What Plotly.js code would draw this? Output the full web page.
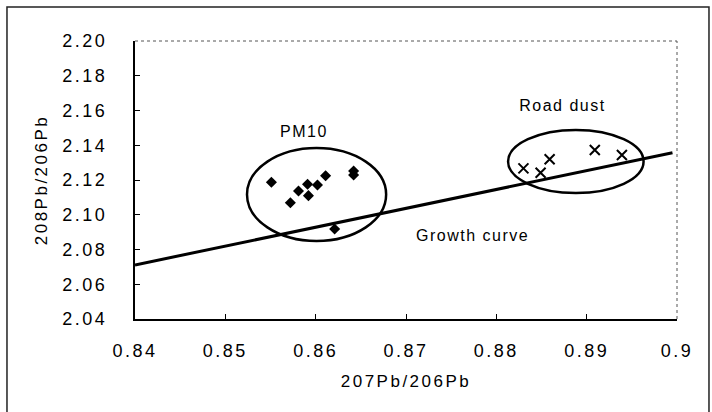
<!DOCTYPE html>
<html>
<head>
<meta charset="utf-8">
<script src="https://cdn.plot.ly/plotly-3.0.1.min.js"></script>
<style>
html,body{margin:0;padding:0;background:#fff;}
#chart{width:712px;height:412px;}
.js-plotly-plot .xtick text,.js-plotly-plot .ytick text{letter-spacing:2.5px;}
.js-plotly-plot .g-xtitle text,.js-plotly-plot .g-ytitle text{letter-spacing:2.5px;}
.js-plotly-plot .annotation-text{letter-spacing:1.5px;}
</style>
</head>
<body>
<div id="chart"></div>
<script>
// PM10 samples (207Pb/206Pb, 208Pb/206Pb)
const pm10X = [0.8551, 0.8572, 0.8581, 0.8591, 0.8592, 0.8602, 0.8611, 0.8642, 0.8642, 0.8621];
const pm10Y = [2.1187, 2.1069, 2.1137, 2.1175, 2.1110, 2.1171, 2.1225, 2.1252, 2.1229, 2.0918];
// Road dust samples
const dustX = [0.8830, 0.8849, 0.8859, 0.8909, 0.8939];
const dustY = [2.1267, 2.1242, 2.1319, 2.1373, 2.1344];
// Growth curve end points
const curveX = [0.84, 0.8995];
const curveY = [2.0711, 2.1357];
// Group ellipses [x0, x1, y0, y1]
const pm10Ellipse = [0.8524, 0.8678, 2.0849, 2.1384];
const dustEllipse = [0.8813, 0.8963, 2.1125, 2.1488];
// Axis ticks
const xTicks = [0.84, 0.85, 0.86, 0.87, 0.88, 0.89, 0.9];
const xTickText = ['0.84', '0.85', '0.86', '0.87', '0.88', '0.89', '0.9'];
const yTicks = [2.04, 2.06, 2.08, 2.10, 2.12, 2.14, 2.16, 2.18, 2.20];
const yTickText = ['2.04', '2.06', '2.08', '2.10', '2.12', '2.14', '2.16', '2.18', '2.20'];
// Labels
const labels = [
  {text: 'PM10', x: 0.8587, y: 2.148},
  {text: 'Road dust', x: 0.8873, y: 2.163},
  {text: 'Growth curve', x: 0.8774, y: 2.0878}
];

const font = 'Liberation Sans, Arial, sans-serif';

const traces = [
  {x: curveX, y: curveY, mode: 'lines', line: {color: '#000', width: 3}, hoverinfo: 'skip', showlegend: false},
  {x: pm10X, y: pm10Y, mode: 'markers', name: 'PM10',
   marker: {symbol: 'diamond', size: 8.5, color: '#000'}, showlegend: false},
  {x: dustX, y: dustY, mode: 'markers', name: 'Road dust',
   marker: {symbol: 'x-thin', size: 10, color: '#000', line: {color: '#000', width: 2}}, showlegend: false}
];

function ellipse(e) {
  return {type: 'circle', xref: 'x', yref: 'y', x0: e[0], x1: e[1], y0: e[2], y1: e[3],
    line: {color: '#000', width: 2.5}, fillcolor: 'rgba(0,0,0,0)'};
}

const layout = {
  width: 712, height: 412,
  margin: {l: 135, r: 35, t: 41, b: 93},
  paper_bgcolor: '#fff', plot_bgcolor: '#fff',
  font: {family: font, size: 18, color: '#000'},
  showlegend: false,
  xaxis: {
    range: [0.84, 0.9], tickvals: xTicks, ticktext: xTickText,
    ticks: 'inside', ticklen: 5, tickwidth: 1, tickcolor: '#000',
    showgrid: false, zeroline: false, showline: true, linecolor: '#000', linewidth: 2,
    ticklabelstandoff: 14,
    tickfont: {family: font, size: 18, color: '#000'},
    title: {text: '207Pb/206Pb', font: {family: font, size: 17, color: '#000'}, standoff: 16}
  },
  yaxis: {
    range: [2.04, 2.20], tickvals: yTicks, ticktext: yTickText,
    ticks: 'inside', ticklen: 5, tickwidth: 1, tickcolor: '#000',
    showgrid: false, zeroline: false, showline: true, linecolor: '#000', linewidth: 2,
    ticklabelstandoff: 22,
    tickfont: {family: font, size: 18, color: '#000'},
    title: {text: '208Pb/206Pb', font: {family: font, size: 17, color: '#000'}, standoff: 20}
  },
  shapes: [
    ellipse(pm10Ellipse),
    ellipse(dustEllipse),
    // top and right plot borders (thin dotted)
    {type: 'line', xref: 'paper', yref: 'paper', x0: 0, x1: 1, y0: 1, y1: 1, line: {color: '#555', width: 1, dash: 'dot'}},
    {type: 'line', xref: 'paper', yref: 'paper', x0: 1, x1: 1, y0: 0, y1: 1, line: {color: '#555', width: 1, dash: 'dot'}},
    // outer frame
    {type: 'rect', xref: 'paper', yref: 'paper', x0: -0.2362, x1: 1.059, y0: -0.34, y1: 1.1223,
     line: {color: '#222', width: 1.5}, fillcolor: 'rgba(0,0,0,0)', layer: 'below'}
  ],
  annotations: labels.map(l => ({text: l.text, x: l.x, y: l.y, xref: 'x', yref: 'y', showarrow: false,
    font: {family: font, size: 16, color: '#000'}}))
};

Plotly.newPlot('chart', traces, layout, {displayModeBar: false, staticPlot: true});
</script>
</body>
</html>
